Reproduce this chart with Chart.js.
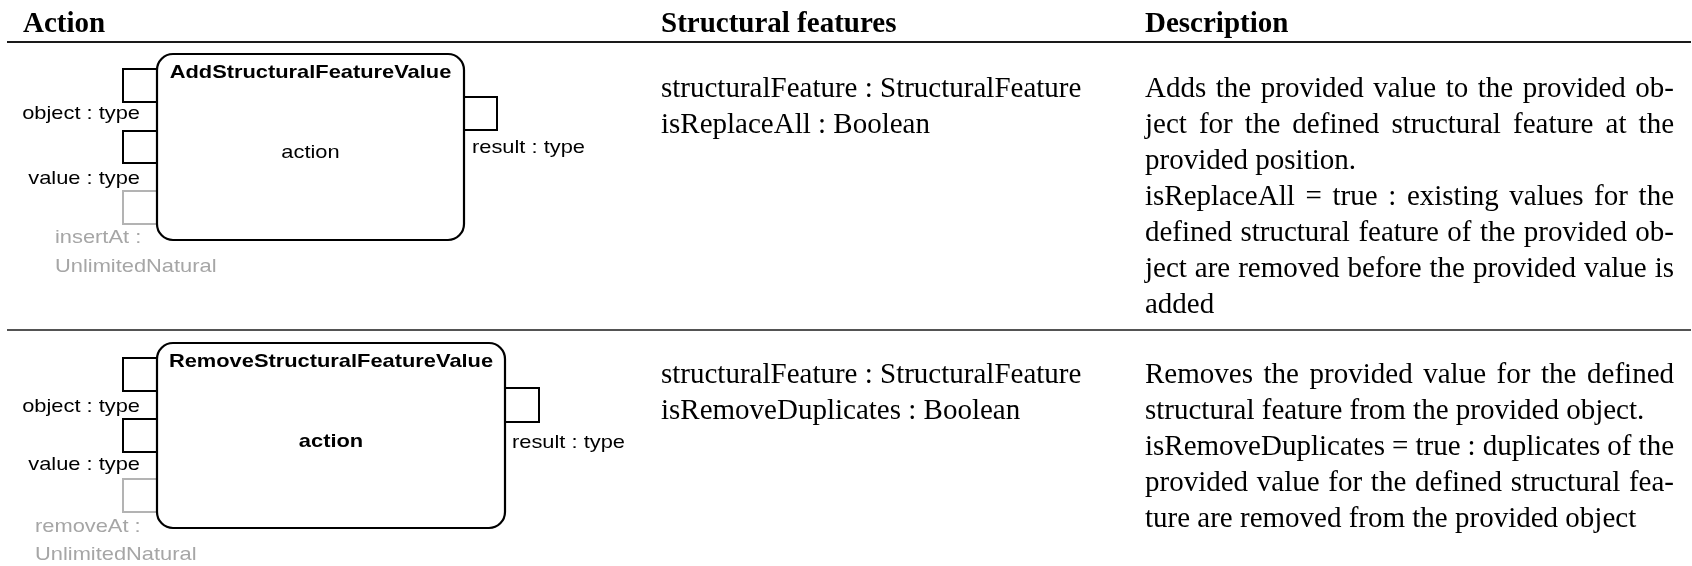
<!DOCTYPE html>
<html>
<head>
<meta charset="utf-8">
<script src="https://cdn.jsdelivr.net/npm/chart.js@4/dist/chart.umd.min.js"></script>
<style>
  html, body { margin: 0; padding: 0; background: #fff; }
  #wrap { width: 1692px; height: 566px; }
</style>
</head>
<body>
<div id="wrap"><canvas id="table" width="1692" height="566"></canvas></div>
<script>
"use strict";

//////////////////////// TABLE CONTENT ////////////////////////
const headers = ['Action', 'Structural features', 'Description'];

const actionNames = ['AddStructuralFeatureValue', 'RemoveStructuralFeatureValue'];
const actionBodies = ['action', 'action'];
const inputPins = [['object : type', 'value : type'], ['object : type', 'value : type']];
const optionalPins = [['insertAt :', 'UnlimitedNatural'], ['removeAt :', 'UnlimitedNatural']];
const outputPins = ['result : type', 'result : type'];

const featureLines = [
    ['structuralFeature : StructuralFeature', 'isReplaceAll : Boolean'],
    ['structuralFeature : StructuralFeature', 'isRemoveDuplicates : Boolean']
];

// each description is a list of paragraphs, each paragraph a list of lines
// the last line of a paragraph is not justified
const descriptions = [
    [
        ['Adds the provided value to the provided ob-',
         'ject for the defined structural feature at the',
         'provided position.'],
        ['isReplaceAll = true :  existing values for the',
         'defined structural feature of the provided ob-',
         'ject are removed before the provided value is',
         'added']
    ],
    [
        ['Removes the provided value for the defined',
         'structural feature from the provided object.'],
        ['isRemoveDuplicates = true : duplicates of the',
         'provided value for the defined structural fea-',
         'ture are removed from the provided object']
    ]
];

//////////////////////// LAYOUT ////////////////////////
// page units = pixels of the picture, mapped through the hidden linear scales
const serif = '"Liberation Serif", "Times New Roman", serif';
const sans = '"Liberation Sans", Arial, sans-serif';
const colX = [23, 661, 1145];
const headerBase = 31.5;
const descWidth = 529;
const lineStep = 36;
const rules = [{y: 42, w: 2}, {y: 330, w: 1.4}];
const ruleX = [7, 1691];
const rowTop = [97, 383];
// the diagrams are a little wider than tall, as in the source figure
const sansStretch = 1.15;
const sansSize = 19;

// diagram geometry for each row (box, pins, labels)
const diagrams = [
    {
        box: [157, 54, 464, 240], pinX: [123, 157], pinsY: [[69, 102], [131, 163], [191, 224]],
        outPin: [464, 497, 97, 130], titleBase: 78, bodyBase: 158, bodyBold: false,
        inLabelRight: 140, inLabelBase: [119, 184], optLeft: 55, optBase: [243, 272],
        outLeft: 472, outBase: 153
    },
    {
        box: [157, 343, 505, 528], pinX: [123, 157], pinsY: [[358, 391], [419, 452], [479, 512]],
        outPin: [505, 539, 388, 422], titleBase: 367, bodyBase: 447, bodyBold: true,
        inLabelRight: 140, inLabelBase: [412, 470], optLeft: 35, optBase: [532, 560],
        outLeft: 512, outBase: 448
    }
];

// draws a justified line of text between x and x + width
function justified(ctx, text, x, y, width) {
    const words = text.split(/\s+/);
    const wordsWidth = words.reduce((s, w) => s + ctx.measureText(w).width, 0);
    const gap = (width - wordsWidth) / (words.length - 1);
    let cx = x;
    words.forEach(w => {
        ctx.fillText(w, cx, y);
        cx += ctx.measureText(w).width + gap;
    });
}

// sans labels of the diagrams, slightly stretched sideways
function diagramText(ctx, text, x, y, align) {
    ctx.save();
    ctx.translate(x, y);
    ctx.scale(sansStretch, 1);
    ctx.textAlign = align;
    ctx.fillText(text, 0, 0);
    ctx.restore();
}

const tablePlugin = {
    id: 'tablePlugin',
    afterDraw(chart) {
        const ctx = chart.ctx;
        const sx = v => chart.scales.x.getPixelForValue(v);
        const sy = v => chart.scales.y.getPixelForValue(v);
        ctx.save();
        ctx.textBaseline = 'alphabetic';

        // header
        ctx.fillStyle = '#000';
        ctx.font = 'bold 29px ' + serif;
        ctx.textAlign = 'left';
        headers.forEach((h, i) => ctx.fillText(h, sx(colX[i]), sy(headerBase)));

        // horizontal rules
        ctx.strokeStyle = '#1a1a1a';
        rules.forEach(r => {
            ctx.lineWidth = r.w;
            ctx.beginPath();
            ctx.moveTo(sx(ruleX[0]), sy(r.y));
            ctx.lineTo(sx(ruleX[1]), sy(r.y));
            ctx.stroke();
        });

        diagrams.forEach((d, row) => {
            // pins first, the box covers their inner edge
            ctx.lineWidth = 2;
            d.pinsY.forEach((py, i) => {
                ctx.strokeStyle = i < 2 ? '#000' : '#b3b3b3';
                ctx.strokeRect(sx(d.pinX[0]), sy(py[0]), sx(d.pinX[1]) - sx(d.pinX[0]), sy(py[1]) - sy(py[0]));
            });
            ctx.strokeStyle = '#000';
            const op = d.outPin;
            ctx.strokeRect(sx(op[0]), sy(op[2]), sx(op[1]) - sx(op[0]), sy(op[3]) - sy(op[2]));

            // action box
            const b = d.box;
            ctx.beginPath();
            ctx.roundRect(sx(b[0]), sy(b[1]), sx(b[2]) - sx(b[0]), sy(b[3]) - sy(b[1]), 16);
            ctx.fillStyle = '#fff';
            ctx.fill();
            ctx.lineWidth = 2.2;
            ctx.stroke();

            const cx = (sx(b[0]) + sx(b[2])) / 2;
            ctx.fillStyle = '#000';
            ctx.font = 'bold ' + sansSize + 'px ' + sans;
            diagramText(ctx, actionNames[row], cx, sy(d.titleBase), 'center');
            ctx.font = (d.bodyBold ? 'bold ' : '') + sansSize + 'px ' + sans;
            diagramText(ctx, actionBodies[row], cx, sy(d.bodyBase), 'center');

            // pin labels
            ctx.font = sansSize + 'px ' + sans;
            inputPins[row].forEach((t, i) => diagramText(ctx, t, sx(d.inLabelRight), sy(d.inLabelBase[i]), 'right'));
            diagramText(ctx, outputPins[row], sx(d.outLeft), sy(d.outBase), 'left');
            ctx.fillStyle = '#a6a6a6';
            optionalPins[row].forEach((t, i) => diagramText(ctx, t, sx(d.optLeft), sy(d.optBase[i]), 'left'));

            // structural features
            ctx.fillStyle = '#000';
            ctx.textAlign = 'left';
            ctx.font = '29px ' + serif;
            featureLines[row].forEach((t, i) => ctx.fillText(t, sx(colX[1]), sy(rowTop[row] + i * lineStep)));

            // description, justified
            let line = 0;
            descriptions[row].forEach(par => {
                par.forEach((t, i) => {
                    const y = sy(rowTop[row] + line * lineStep);
                    if (i < par.length - 1) {
                        justified(ctx, t, sx(colX[2]), y, descWidth);
                    } else {
                        ctx.fillText(t, sx(colX[2]), y);
                    }
                    line++;
                });
            });
        });
        ctx.restore();
    }
};

new Chart(document.querySelector('#table'), {
    type: 'scatter',
    data: { datasets: [] },
    options: {
        responsive: false,
        animation: false,
        events: [],
        layout: { padding: 0 },
        plugins: { legend: { display: false }, tooltip: { enabled: false } },
        scales: {
            x: { type: 'linear', min: 0, max: 1692, display: false },
            y: { type: 'linear', min: 0, max: 566, reverse: true, display: false }
        }
    },
    plugins: [tablePlugin]
});
</script>
</body>
</html>
